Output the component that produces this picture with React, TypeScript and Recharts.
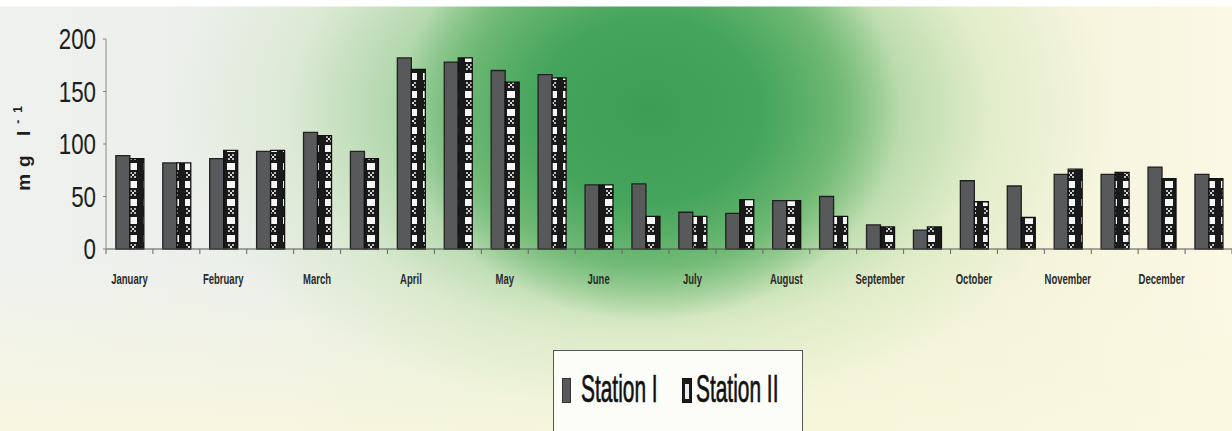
import { BarChart, Bar, XAxis, YAxis } from "recharts";

const PERIODS = [
  "January", "", "February", "", "March", "", "April", "", "May", "", "June", "",
  "July", "", "August", "", "September", "", "October", "", "November", "", "December", "",
];
const STATION_I = [89, 82, 86, 93, 111, 93, 182, 178, 170, 166, 61, 62, 35, 34, 46, 50, 23, 18, 65, 60, 71, 71, 78, 71];
const STATION_II = [86, 82, 94, 94, 108, 86, 171, 182, 159, 163, 61, 31, 31, 47, 46, 31, 21, 21, 45, 30, 76, 73, 67, 67];
const Y_TICKS = [0, 50, 100, 150, 200];

const data = PERIODS.map((p, i) => ({
  key: `p${i}`,
  label: p,
  s1: STATION_I[i],
  s2: STATION_II[i],
}));

const FONT = "'Liberation Sans', Arial, sans-serif";
const BAND = (1232 - 106) / PERIODS.length;

// scanned-paper look: green blot top centre, grey left, cream right/bottom
const BG = [
  "linear-gradient(180deg, #ffffff 0px, #ffffff 6px, rgba(255,255,255,0) 7px)",
  "radial-gradient(ellipse 250px 210px at 650px 110px, rgba(60,158,84,1) 0%, rgba(66,163,90,0.95) 45%, rgba(90,175,100,0.7) 75%, rgba(130,195,125,0) 100%)",
  "radial-gradient(ellipse 470px 300px at 640px 110px, rgba(80,170,98,0.85) 0%, rgba(120,190,120,0.6) 45%, rgba(190,222,170,0.3) 75%, rgba(220,235,200,0) 100%)",
  "linear-gradient(180deg, rgba(248,246,218,0) 60%, rgba(250,248,222,0.8) 100%)",
  "linear-gradient(90deg, #eff1ef 0%, #ebefea 22%, #e1ecd6 40%, #e6efcf 62%, #f2f3d9 80%, #fbf8e5 100%)",
].join(", ");

function MonthTick(props: any) {
  const { x, y, index } = props;
  const label = data[index]?.label;
  const left = x - BAND / 2;
  return (
    <g>
      <line x1={left} x2={left} y1={y} y2={y + 5} stroke="#666" />
      {index === data.length - 1 && <line x1={x + BAND / 2} x2={x + BAND / 2} y1={y} y2={y + 5} stroke="#666" />}
      {label && (
        <text
          x={0}
          y={0}
          transform={`translate(${x}, ${y + 31}) scale(0.68, 1)`}
          textAnchor="middle"
          dominantBaseline="middle"
          fontFamily={FONT}
          fontWeight="bold"
          fontSize={14}
          fill="#2a2a2a"
        >
          {label}
        </text>
      )}
    </g>
  );
}

function ValueTick(props: any) {
  const { x, y, payload } = props;
  return (
    <text
      x={0}
      y={0}
      transform={`translate(${x}, ${y}) scale(0.77, 1)`}
      textAnchor="end"
      dominantBaseline="central"
      fontFamily={FONT}
      fontSize={29}
      fill="#1e1e1e"
    >
      {payload.value}
    </text>
  );
}

const legendText = {
  position: "absolute" as const,
  top: 19,
  fontFamily: FONT,
  fontSize: 38,
  lineHeight: "38px",
  color: "#111",
  transform: "scale(0.55, 1)",
  transformOrigin: "left top",
  whiteSpace: "nowrap" as const,
  WebkitTextStroke: "0.7px #111",
};

export default function App() {
  return (
    <div style={{ position: "absolute", left: 0, top: 0, width: 1232, height: 431, background: BG, overflow: "hidden" }}>
      <BarChart
        width={1232}
        height={431}
        data={data}
        margin={{ top: 39, right: 0, left: 0, bottom: 0 }}
        barCategoryGap="21%"
        barGap={0}
      >
        <defs>
          <pattern id="station2" width="14" height="18" patternUnits="userSpaceOnUse">
            <rect width="14" height="18" fill="#1a1a1a" />
            <rect x="3" y="1" width="8" height="7" fill="#f6f6f6" />
            <rect x="4" y="10" width="2" height="2" fill="#bdbdbd" />
            <rect x="8" y="10" width="2" height="2" fill="#bdbdbd" />
            <rect x="6" y="12" width="2" height="2" fill="#e0e0e0" />
            <rect x="4" y="14" width="2" height="2" fill="#bdbdbd" />
            <rect x="8" y="14" width="2" height="2" fill="#bdbdbd" />
          </pattern>
        </defs>
        <XAxis
          dataKey="key"
          height={182}
          interval={0}
          tick={<MonthTick />}
          tickLine={false}
          tickSize={0}
          tickMargin={0}
          axisLine={{ stroke: "#555", strokeWidth: 1 }}
        />
        <YAxis
          width={106}
          domain={[0, 200]}
          ticks={Y_TICKS}
          tickSize={3}
          tickMargin={7}
          axisLine={{ stroke: "#888", strokeWidth: 1 }}
          tickLine={{ stroke: "#888" }}
          tick={<ValueTick />}
        />
        <Bar dataKey="s1" name="Station I" fill="#58595b" stroke="#222" strokeWidth={1.3} isAnimationActive={false} />
        <Bar dataKey="s2" name="Station II" fill="url(#station2)" stroke="#111" strokeWidth={1.3} isAnimationActive={false} />
      </BarChart>

      <div
        style={{
          position: "absolute",
          left: 23,
          top: 145,
          transform: "translate(-50%, -50%) rotate(-90deg)",
          fontFamily: FONT,
          fontWeight: "bold",
          fontSize: 19,
          letterSpacing: 7,
          color: "#1e1e1e",
          whiteSpace: "nowrap",
        }}
      >
        mg l<sup style={{ fontSize: 12 }}>-1</sup>
      </div>

      <div
        style={{
          position: "absolute",
          left: 553,
          top: 350,
          width: 250,
          height: 100,
          border: "1px solid #555",
          background: "#fcfcf8",
          boxSizing: "border-box",
        }}
      >
        <span style={{ position: "absolute", left: 8, top: 27, width: 9, height: 25, background: "#58595b", border: "1px solid #333", boxSizing: "border-box" }} />
        <span style={{ ...legendText, left: 27 }}>Station I</span>
        <span style={{ position: "absolute", left: 128, top: 27, width: 10, height: 25, background: "#1c1c1c", boxSizing: "border-box", border: "1px solid #111" }}>
          <span style={{ position: "absolute", left: 2, top: 5, width: 4, height: 15, background: "#eee" }} />
        </span>
        <span style={{ ...legendText, left: 142 }}>Station II</span>
      </div>
    </div>
  );
}
